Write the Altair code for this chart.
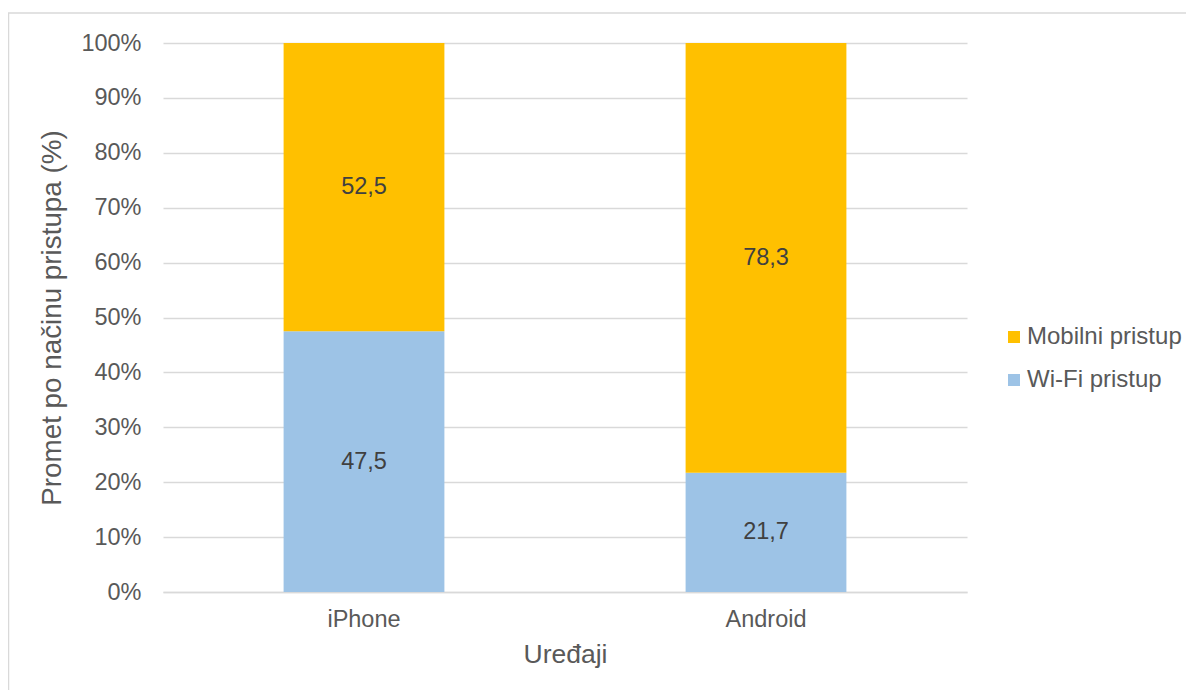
import altair as alt
import pandas as pd

devices = ["iPhone", "Android"]
series = ["Wi-Fi pristup", "Mobilni pristup"]
wifi = [47.5, 21.7]
mobile = [52.5, 78.3]
y_ticks = [0, 10, 20, 30, 40, 50, 60, 70, 80, 90, 100]

rows = []
for i, d in enumerate(devices):
    base = 0.0
    for s, vals, order in [(series[0], wifi, 0), (series[1], mobile, 1)]:
        v = vals[i]
        rows.append({
            "device": d, "series": s, "value": v, "order": order,
            "y0": base, "y1": base + v, "mid": base + v / 2,
            "label": f"{v:.1f}".replace(".", ","),
        })
        base += v
df = pd.DataFrame(rows)

FONT = "Liberation Sans"
W, H = 804, 549
TICK_FS = 23.5

x_enc = alt.X("device:N", sort=devices, title="Uređaji",
              scale=alt.Scale(paddingInner=0.6, paddingOuter=0.3),
              axis=alt.Axis(labelAngle=0, labelFontSize=TICK_FS, labelColor="#595959",
                            labelFont=FONT, titleFont=FONT, titleFontSize=26.5,
                            titleFontWeight="normal", titleColor="#595959",
                            titlePadding=11, labelPadding=15, ticks=False, grid=False,
                            domain=True, domainColor="#d9d9d9", domainWidth=1.5))

bars = alt.Chart(df).mark_bar().encode(
    x=x_enc,
    y=alt.Y("y0:Q", title="Promet po načinu pristupa (%)",
            scale=alt.Scale(domain=[0, 100], nice=False),
            axis=alt.Axis(values=y_ticks, labelExpr="datum.value + '%'",
                          labelFontSize=TICK_FS, labelColor="#595959", labelFont=FONT,
                          titleFont=FONT, titleFontSize=27.8, titleFontWeight="normal",
                          titleColor="#595959", titlePadding=14, labelPadding=22,
                          ticks=False, domain=False, grid=True,
                          gridColor="#d9d9d9", gridWidth=1.5)),
    y2="y1:Q",
    color=alt.Color("series:N",
                    scale=alt.Scale(domain=["Mobilni pristup", "Wi-Fi pristup"],
                                    range=["#FFC000", "#9DC3E6"]),
                    legend=alt.Legend(title=None, orient="none", legendX=839, legendY=282,
                                      symbolType="square", symbolSize=144,
                                      symbolStrokeWidth=0, labelFontSize=24,
                                      labelFont=FONT, labelColor="#595959",
                                      rowPadding=19, labelOffset=1)),
)

labels = alt.Chart(df).mark_text(fontSize=23.5, font=FONT, color="#404040").encode(
    x=alt.X("device:N", sort=devices),
    y=alt.Y("mid:Q"),
    text="label:N",
)

border = alt.Chart(pd.DataFrame({"a": [0]})).mark_rect(
    fill=None, stroke="#d9d9d9", strokeWidth=1.5
).encode(x=alt.value(-154.5), x2=alt.value(1060), y=alt.value(-30), y2=alt.value(700))

chart = alt.layer(border, bars, labels).properties(
    width=W, height=H,
    background="white",
    autosize=alt.AutoSizeParams(type="none"),
    padding={"left": 155, "top": 35, "right": 219, "bottom": 98},
).configure_view(strokeWidth=0, stroke="transparent")

chart.save("out.html", embed_options={"renderer": "svg", "actions": False})
